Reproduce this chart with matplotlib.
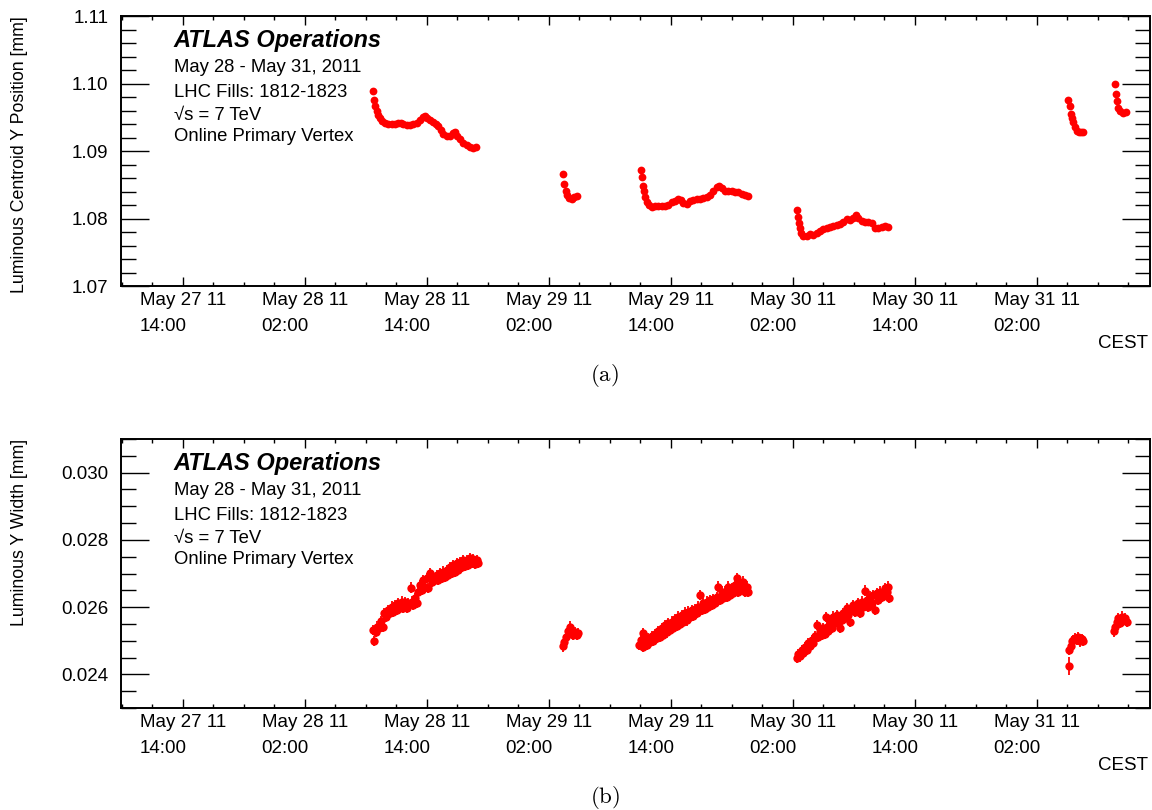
"""
Beam-spot monitoring plots: luminous centroid y position and luminous y width
from the online primary vertex fit, LHC fills 1812-1823.
"""

from datetime import datetime, timedelta

import matplotlib
matplotlib.use("Agg")
import matplotlib.pyplot as plt
import matplotlib.dates as mdates
from matplotlib.ticker import MultipleLocator, FormatStrFormatter

plt.rcParams["font.family"] = ["Liberation Sans", "DejaVu Sans"]
plt.rcParams["mathtext.fontset"] = "cm"

# ── Data (hours counted from 2011-05-27 00:00 CEST) ──────────────────────────

T0 = datetime(2011, 5, 27)

# luminous centroid y position [mm], fills concatenated in time order
POS_HOURS = [
    # fill 1
    32.75, 32.85, 32.95, 33.08, 33.24, 33.41, 33.64, 33.90, 34.23, 34.55,
    34.88, 35.21, 35.44, 35.70, 36.03, 36.36, 36.69, 37.01, 37.34, 37.60,
    37.83, 38.06, 38.32, 38.65, 38.91, 39.14, 39.37, 39.64, 39.96, 40.29,
    40.62, 40.78, 41.01, 41.28, 41.60, 41.93, 42.26, 42.59, 42.85,
    # fill 2
    51.44, 51.54, 51.70, 51.83, 51.99, 52.26, 52.49, 52.82,
    # fill 3
    59.05, 59.18, 59.28, 59.37, 59.51, 59.64, 59.83, 60.13, 60.46, 60.78,
    61.11, 61.44, 61.77, 62.10, 62.42, 62.75, 62.98, 63.24, 63.57, 63.90,
    64.23, 64.55, 64.88, 65.21, 65.54, 65.87, 66.19, 66.52, 66.78, 67.01,
    67.34, 67.67, 68.00, 68.33, 68.65, 68.98, 69.31, 69.64,
    # fill 4
    74.45, 74.52, 74.62, 74.72, 74.85, 75.04, 75.37, 75.70, 76.03, 76.36,
    76.68, 77.01, 77.34, 77.67, 78.00, 78.32, 78.65, 78.98, 79.31, 79.63,
    79.96, 80.22, 80.45, 80.78, 81.11, 81.44, 81.77, 82.09, 82.42, 82.75,
    83.08, 83.40,
    # fill 5
    101.11, 101.27, 101.34, 101.44, 101.60, 101.77, 101.93, 102.19, 102.36,
    102.52,
    # fill 6
    105.70, 105.77, 105.86, 105.96, 106.19, 106.46, 106.78,
]
POS_VALUES = [
    1.09886, 1.09756, 1.09672, 1.09597, 1.09532, 1.09488, 1.09448, 1.09418, 1.09398, 1.09393,
    1.09398, 1.09413, 1.09418, 1.09398, 1.09383, 1.09388, 1.09398, 1.09418, 1.09458, 1.09498,
    1.09512, 1.09488, 1.09458, 1.09423, 1.09398, 1.09373, 1.09308, 1.09259, 1.09224, 1.09224,
    1.09274, 1.09284, 1.09224, 1.09174, 1.09124, 1.09090, 1.09060, 1.09040, 1.09060,
    1.08662, 1.08512, 1.08413, 1.08353, 1.08303, 1.08289, 1.08313, 1.08328,
    1.08712, 1.08612, 1.08478, 1.08403, 1.08313, 1.08244, 1.08194, 1.08174, 1.08179, 1.08179,
    1.08189, 1.08179, 1.08204, 1.08239, 1.08264, 1.08294, 1.08279, 1.08229, 1.08219, 1.08254,
    1.08279, 1.08289, 1.08294, 1.08304, 1.08313, 1.08343, 1.08403, 1.08463, 1.08488, 1.08453,
    1.08413, 1.08403, 1.08403, 1.08393, 1.08393, 1.08363, 1.08343, 1.08328,
    1.08120, 1.08020, 1.07931, 1.07856, 1.07781, 1.07746, 1.07746, 1.07766, 1.07756, 1.07781,
    1.07816, 1.07846, 1.07866, 1.07871, 1.07886, 1.07906, 1.07916, 1.07955, 1.07990, 1.07980,
    1.08015, 1.08045, 1.08005, 1.07965, 1.07945, 1.07955, 1.07931, 1.07866, 1.07866, 1.07881,
    1.07886, 1.07876,
    1.09761, 1.09662, 1.09547, 1.09488, 1.09423, 1.09358, 1.09299, 1.09284, 1.09289,
    1.09289,
    1.09995, 1.09846, 1.09746, 1.09632, 1.09597, 1.09562, 1.09572,
]

# luminous y width [mm]
WIDTH_HOURS = [
    # fill 1
    32.82, 32.75, 33.01, 33.14, 33.34, 33.51, 33.67, 33.83, 34.00, 34.23,
    34.39, 34.55, 34.72, 34.88, 35.05, 35.21, 35.37, 35.54, 35.70, 35.87,
    36.03, 36.19, 36.42, 36.52, 36.69, 36.85, 37.01, 37.18, 37.34, 37.51,
    37.67, 37.83, 38.00, 38.16, 38.33, 38.49, 38.65, 38.82, 38.98, 39.15,
    39.31, 39.47, 39.64, 39.80, 39.96, 40.13, 40.29, 40.46, 40.62, 40.78,
    40.95, 41.11, 41.28, 41.44, 41.60, 41.77, 41.93, 42.10, 42.26, 42.42,
    42.59, 42.75, 42.92, 43.08,
    # fill 2
    51.37, 51.51, 51.70, 51.93, 52.10, 52.26, 52.42, 52.59, 52.75, 52.92,
    # fill 3
    58.91, 59.04, 59.24, 59.31, 59.47, 59.63, 59.80, 59.96, 60.12, 60.29,
    60.45, 60.62, 60.78, 60.94, 61.11, 61.27, 61.44, 61.60, 61.76, 61.93,
    62.09, 62.26, 62.42, 62.58, 62.75, 62.91, 63.08, 63.24, 63.40, 63.57,
    63.73, 63.90, 64.06, 64.22, 64.39, 64.55, 64.71, 64.88, 65.04, 65.21,
    65.37, 65.53, 65.70, 65.86, 66.03, 66.19, 66.35, 66.52, 66.68, 66.85,
    67.01, 67.17, 67.34, 67.50, 67.67, 67.83, 67.99, 68.16, 68.32, 68.49,
    68.65, 68.81, 68.98, 69.14, 69.31, 69.47, 69.63,
    # fill 4
    74.39, 74.55, 74.71, 74.88, 75.04, 75.21, 75.37, 75.53, 75.70, 75.86,
    76.03, 76.19, 76.35, 76.52, 76.68, 76.85, 77.01, 77.17, 77.27, 77.34,
    77.50, 77.67, 77.83, 77.99, 78.16, 78.32, 78.49, 78.65, 78.81, 78.98,
    79.14, 79.30, 79.47, 79.63, 79.80, 79.96, 80.12, 80.29, 80.45, 80.62,
    80.78, 80.94, 81.11, 81.27, 81.44, 81.60, 81.76, 81.93, 82.09, 82.26,
    82.42, 82.58, 82.75, 82.91, 83.08, 83.24, 83.40, 83.50,
    # fill 5
    101.21, 101.34, 101.47, 101.60, 101.77, 101.93, 102.09, 102.26, 102.42, 102.59,
    # fill 6
    105.60, 105.73, 105.87, 106.03, 106.19, 106.36, 106.52, 106.69, 106.85,
]
WIDTH_VALUES = [
    0.024998, 0.025325, 0.025256, 0.025424, 0.025375, 0.025593, 0.025424, 0.025820, 0.025721, 0.025920,
    0.025820, 0.026019, 0.025870, 0.026068, 0.025920, 0.026118, 0.025969, 0.026167, 0.025969, 0.026147,
    0.025969, 0.026118, 0.026583, 0.026167, 0.026068, 0.026266, 0.026118, 0.026464, 0.026663, 0.026514,
    0.026811, 0.026613, 0.026861, 0.026564, 0.027009, 0.026762, 0.026910, 0.026811, 0.026960, 0.026811,
    0.027009, 0.026861, 0.027059, 0.026910, 0.027108, 0.026960, 0.027207, 0.027009, 0.027257, 0.027059,
    0.027306, 0.027108, 0.027356, 0.027207, 0.027406, 0.027237, 0.027406, 0.027257, 0.027455, 0.027306,
    0.027435, 0.027277, 0.027406, 0.027306,
    0.024830, 0.024978, 0.025127, 0.025276, 0.025424, 0.025226, 0.025177, 0.025256, 0.025177, 0.025226,
    0.024879, 0.025028, 0.025226, 0.024810, 0.025028, 0.024879, 0.025077, 0.024949, 0.025147, 0.025008,
    0.025206, 0.025077, 0.025276, 0.025107, 0.025375, 0.025177, 0.025474, 0.025246, 0.025523, 0.025325,
    0.025573, 0.025375, 0.025642, 0.025444, 0.025721, 0.025504, 0.025771, 0.025573, 0.025840, 0.025603,
    0.025870, 0.025702, 0.025920, 0.025741, 0.025939, 0.025821, 0.026019, 0.026366, 0.025920, 0.026118,
    0.025939, 0.026167, 0.025999, 0.026217, 0.026068, 0.026237, 0.026118, 0.026296, 0.026613, 0.026217,
    0.026465, 0.026266, 0.026465, 0.026296, 0.026613, 0.026366, 0.026564, 0.026415, 0.026663, 0.026861,
    0.026465, 0.026712, 0.026564, 0.026762, 0.026465, 0.026613, 0.026465,
    0.024483, 0.024612, 0.024533, 0.024711, 0.024632, 0.024810, 0.024731, 0.024929, 0.024850, 0.025028,
    0.024929, 0.025147, 0.025474, 0.025127, 0.025276, 0.025177, 0.025375, 0.025206, 0.025702, 0.025424,
    0.025276, 0.025523, 0.025375, 0.025721, 0.025523, 0.025771, 0.025573, 0.025375, 0.025622, 0.025820,
    0.025672, 0.025969, 0.025771, 0.025573, 0.025920, 0.026068, 0.025870, 0.026019, 0.026118, 0.025820,
    0.026167, 0.026019, 0.026494, 0.026217, 0.026019, 0.026316, 0.026118, 0.026365, 0.025920, 0.026415,
    0.026217, 0.026465, 0.026316, 0.026415, 0.026564, 0.026465, 0.026613, 0.026266,
    0.024731, 0.024830, 0.024979, 0.025028, 0.025078, 0.025028, 0.025107, 0.024979, 0.025048, 0.025008,
    0.025276, 0.025424, 0.025573, 0.025672, 0.025543, 0.025721, 0.025603, 0.025672, 0.025573,
]
WIDTH_ERR = 0.00015

# single early point of fill 1822 with a larger error
OUTLIER_HOUR = 101.18
OUTLIER_VALUE = 0.024255
OUTLIER_ERR = 0.00027

X_RANGE_HOURS = (7.93, 109.14)

INFO_LINES = [
    "May 28 - May 31, 2011",
    "LHC Fills: 1812-1823",
    "\u221as = 7 TeV",
    "Online Primary Vertex",
]


def to_dates(hours):
    return [T0 + timedelta(hours=h) for h in hours]


# ── Axis styling (ROOT look: inward ticks on all four sides) ─────────────────

def style_axis(ax, ylim, major, minor, fmt, ylabel):
    ax.set_xlim(*to_dates(X_RANGE_HOURS))
    ax.set_ylim(*ylim)
    ax.xaxis.set_major_locator(mdates.HourLocator(byhour=[2, 14]))
    ax.xaxis.set_minor_locator(mdates.HourLocator(byhour=range(2, 24, 3)))
    ax.xaxis.set_major_formatter(mdates.DateFormatter("%b %d %y\n%H:%M"))
    ax.yaxis.set_major_locator(MultipleLocator(major))
    ax.yaxis.set_minor_locator(MultipleLocator(minor))
    ax.yaxis.set_major_formatter(FormatStrFormatter(fmt))

    ax.tick_params(which="both", direction="in", top=True, right=True, width=1.0)
    ax.tick_params(axis="y", which="major", length=20, pad=9, labelsize=13.5)
    ax.tick_params(axis="y", which="minor", length=10.5)
    ax.tick_params(axis="x", which="major", length=6.3, pad=4.5, labelsize=13.5)
    ax.tick_params(axis="x", which="minor", length=2.8)
    for sp in ax.spines.values():
        sp.set_linewidth(1.4)

    ax.set_ylabel(ylabel, fontsize=12.8, loc="top")
    ax.yaxis.set_label_coords(-0.090, 1.0)

    ax.text(0.998, -0.23, "CEST", transform=ax.transAxes, ha="right",
            va="baseline", fontsize=13.5)

    ax.text(0.0508, 0.884, "ATLAS Operations", transform=ax.transAxes,
            fontsize=17, fontweight="bold", fontstyle="italic", va="baseline")
    for line, y in zip(INFO_LINES, [0.791, 0.699, 0.615, 0.536]):
        ax.text(0.052, y, line, transform=ax.transAxes, fontsize=13.3,
                va="baseline")


# ── Figure ────────────────────────────────────────────────────────────────────

fig = plt.figure(figsize=(11.52, 8.1), dpi=100)
ax1 = fig.add_axes([0.1050, 0.6469, 0.8932, 0.3333])
ax2 = fig.add_axes([0.1050, 0.1259, 0.8932, 0.3321])

ax1.plot(to_dates(POS_HOURS), POS_VALUES, "o", color="red", ms=5.6, mew=0)
style_axis(ax1, (1.07, 1.11), 0.01, 0.002, "%.2f",
           "Luminous Centroid Y Position [mm]")

ax2.errorbar(to_dates(WIDTH_HOURS), WIDTH_VALUES, yerr=WIDTH_ERR, fmt="o",
             color="red", ms=6.0, mew=0, elinewidth=1.3, capsize=0)
ax2.errorbar(to_dates([OUTLIER_HOUR]), [OUTLIER_VALUE], yerr=OUTLIER_ERR,
             fmt="o", color="red", ms=6.0, mew=0, elinewidth=1.3, capsize=0)
style_axis(ax2, (0.023, 0.031), 0.002, 0.0005, "%.3f",
           "Luminous Y Width [mm]")

fig.text(0.525, 0.537, r"$\mathrm{(a)}$", ha="center", va="center", fontsize=16.5)
fig.text(0.525, 0.016, r"$\mathrm{(b)}$", ha="center", va="center", fontsize=16.5)

# two-line date labels: lines left aligned, block centred on the tick
fig.canvas.draw()
for ax in (ax1, ax2):
    for lbl in ax.get_xticklabels():
        lbl.set_multialignment("left")
        lbl.set_linespacing(1.7)

fig.savefig("out.png", dpi=100)
